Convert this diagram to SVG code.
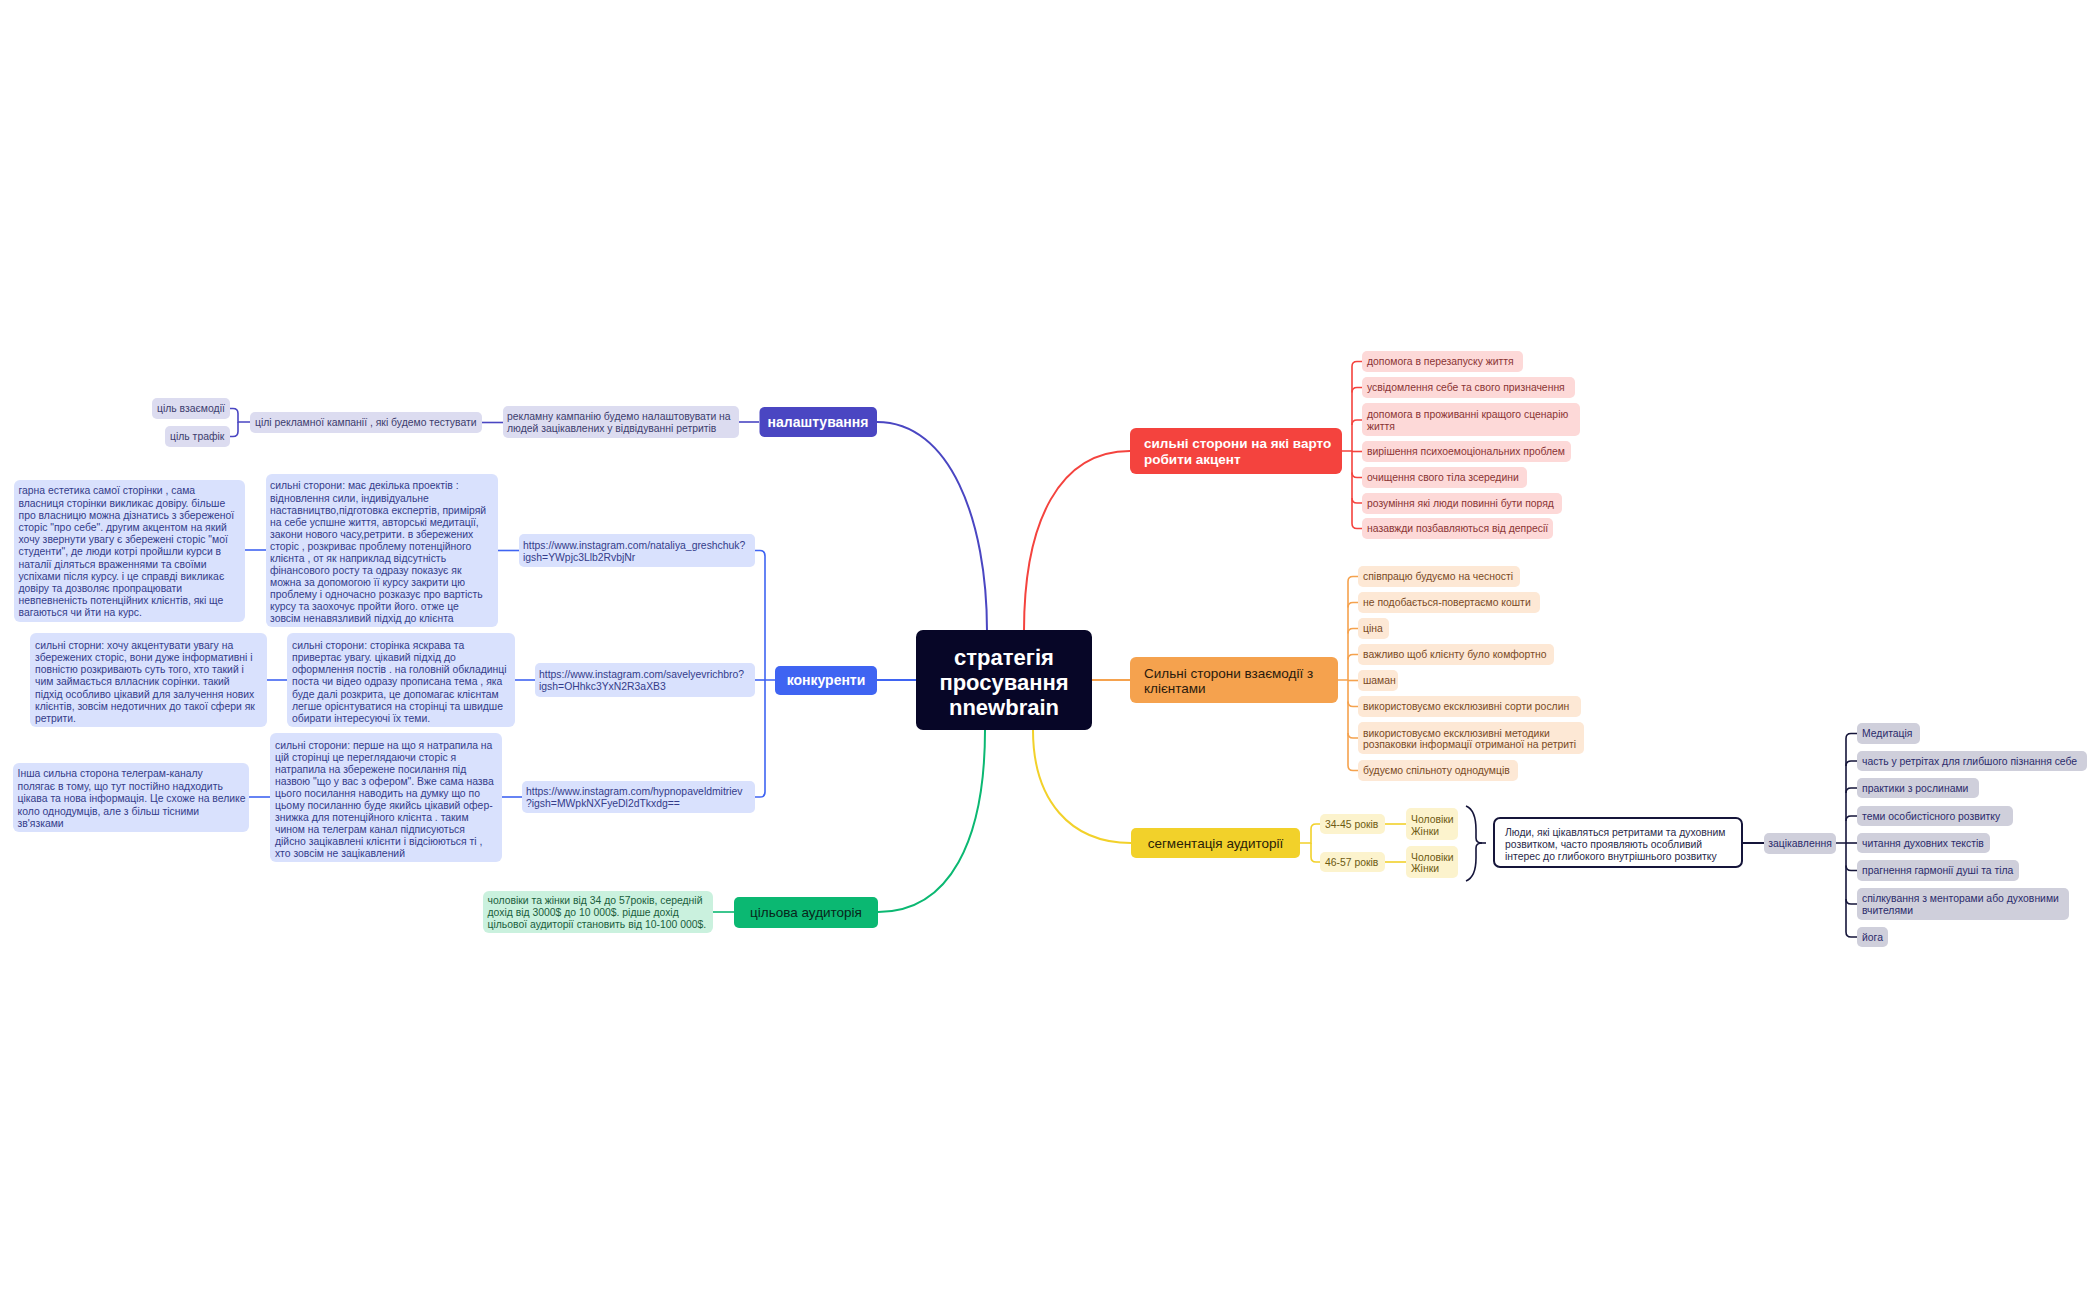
<svg xmlns="http://www.w3.org/2000/svg" width="2100" height="1299" viewBox="0 0 2100 1299">
<style>
text{font-family:"Liberation Sans",Arial,sans-serif;}
.s{font-size:10.4px;}
.m{font-size:13.5px;}
.b{font-size:14px;font-weight:bold;fill:#fff;}
.c{font-size:22px;font-weight:bold;fill:#fff;}
.ln{fill:none;stroke-width:2;}
.lnt{fill:none;stroke-width:1.6;}
.ind{stroke:#4a46c2;}
.blu{stroke:#3f64f2;}
.red{stroke:#f4433e;}
.org{stroke:#f5a24e;}
.yel{stroke:#f2d12a;}
.grn{stroke:#0bb872;}
.nav{stroke:#15153a;}
.lav rect{fill:#dcdcf0;} .lav text{fill:#3c3c6e;}
.lb rect{fill:#d9e1fd;} .lb text{fill:#343c8a;}
.pk rect{fill:#fdd9d8;} .pk text{fill:#8a3434;}
.pc rect{fill:#fde8d5;} .pc text{fill:#7a4a25;}
.ly rect{fill:#fcf3cd;} .ly text{fill:#6e5a12;}
.lg rect{fill:#caf1de;} .lg text{fill:#1b5e3d;}
.gr rect{fill:#cfcfdb;} .gr text{fill:#2b2b6b;}
</style>
<rect width="2100" height="1299" fill="#fff"/>

<g id="connectors">
  <path class="ln ind" d="M877 422 C950 422 987 520 987 631"/>
  <path class="ln red" d="M1024 631 C1024 520 1060 451 1130 451"/>
  <path class="ln org" d="M1092 680 H1130"/>
  <path class="ln yel" d="M1033 730 C1033 800 1070 843 1131 843"/>
  <path class="ln grn" d="M878 912 C950 912 985 840 985 730"/>
  <path class="ln blu" d="M877 680 H916"/>
  <path class="lnt ind" d="M759 422 H739"/>
  <path class="lnt ind" d="M503 422.5 H482"/>
  <path class="lnt ind" d="M250 422 H238 V413.5 Q238 408.5 233 408.5 H230"/>
  <path class="lnt ind" d="M238 422 V431.5 Q238 436.5 233 436.5 H230"/>
  <path class="lnt blu" d="M775 680 H765 V556 Q765 550.5 760 550.5 H755"/>
  <path class="lnt blu" d="M765 680 H755"/>
  <path class="lnt blu" d="M765 680 V792 Q765 797 760 797 H755"/>
  <path class="lnt blu" d="M519 550.5 H498"/>
  <path class="lnt blu" d="M266 550 H245"/>
  <path class="lnt blu" d="M535 680 H515"/>
  <path class="lnt blu" d="M287 680 H267"/>
  <path class="lnt blu" d="M522 797 H502"/>
  <path class="lnt blu" d="M270 797 H249"/>
  <path class="lnt grn" d="M734 912 H713"/>
  <path class="lnt red" d="M1342 451 H1352 V366.5 Q1352 361.5 1357 361.5 H1362"/>
  <path class="lnt red" d="M1352 392.5 Q1352 387.5 1357 387.5 H1362"/>
  <path class="lnt red" d="M1352 425 Q1352 420 1357 420 H1362"/>
  <path class="lnt red" d="M1352 451.5 H1362"/>
  <path class="lnt red" d="M1352 451 V523.5 Q1352 528.5 1357 528.5 H1362"/>
  <path class="lnt red" d="M1352 472.5 Q1352 477.5 1357 477.5 H1362"/>
  <path class="lnt red" d="M1352 498 Q1352 503 1357 503 H1362"/>
  <path class="lnt org" d="M1338 680 H1348 V581.5 Q1348 576.5 1353 576.5 H1358"/>
  <path class="lnt org" d="M1348 607.5 Q1348 602.5 1353 602.5 H1358"/>
  <path class="lnt org" d="M1348 633.5 Q1348 628.5 1353 628.5 H1358"/>
  <path class="lnt org" d="M1348 659.5 Q1348 654.5 1353 654.5 H1358"/>
  <path class="lnt org" d="M1348 680.5 H1358"/>
  <path class="lnt org" d="M1348 680 V765.5 Q1348 770.5 1353 770.5 H1358"/>
  <path class="lnt org" d="M1348 701.5 Q1348 706.5 1353 706.5 H1358"/>
  <path class="lnt org" d="M1348 733 Q1348 738 1353 738 H1358"/>
  <path class="lnt yel" d="M1300 843 H1311 V829 Q1311 824 1316 824 H1320"/>
  <path class="lnt yel" d="M1311 843 V857 Q1311 862 1316 862 H1320"/>
  <path class="lnt yel" d="M1385 824 H1406"/>
  <path class="lnt yel" d="M1385 862 H1406"/>
  <path class="lnt nav" d="M1466 806 Q1476 810 1476 830 V838 Q1476 843 1482 843 Q1476 843 1476 848 V858 Q1476 877 1466 881"/>
  <path class="lnt nav" d="M1479 843 H1486"/>
  <path class="ln nav" d="M1743 843 H1764"/>
  <path class="lnt nav" d="M1836 843 H1846 V738.5 Q1846 733.5 1851 733.5 H1857"/>
  <path class="lnt nav" d="M1846 766 Q1846 761 1851 761 H1857"/>
  <path class="lnt nav" d="M1846 793 Q1846 788 1851 788 H1857"/>
  <path class="lnt nav" d="M1846 821 Q1846 816 1851 816 H1857"/>
  <path class="lnt nav" d="M1846 843 H1857"/>
  <path class="lnt nav" d="M1846 843 V932 Q1846 937 1851 937 H1857"/>
  <path class="lnt nav" d="M1846 865.5 Q1846 870.5 1851 870.5 H1857"/>
  <path class="lnt nav" d="M1846 899 Q1846 904 1851 904 H1857"/>
</g>

<g id="central">
  <rect x="916" y="630" width="176" height="100" rx="7" fill="#070627"/>
  <text class="c" x="1004" y="664.5" text-anchor="middle">стратегія</text>
  <text class="c" x="1004" y="689.5" text-anchor="middle">просування</text>
  <text class="c" x="1004" y="714.5" text-anchor="middle">nnewbrain</text>
</g>

<g id="nalashtuvannia">
  <rect x="759.5" y="407" width="117.5" height="30" rx="5" fill="#4a46c2"/>
  <text class="b" x="818" y="427" text-anchor="middle">налаштування</text>
</g>
<g id="reklamnu" class="lav">
  <rect x="503" y="406" width="236" height="32" rx="5"/>
  <text class="s" x="507" y="420.4">рекламну кампанію будемо налаштовувати на</text>
  <text class="s" x="507" y="431.5">людей зацікавлених у відвідуванні ретритів</text>
</g>
<g id="tsili" class="lav">
  <rect x="250" y="412" width="232" height="21" rx="5"/>
  <text class="s" x="255" y="426">цілі рекламної кампанії , які будемо тестувати</text>
</g>
<g id="vzaiemodii" class="lav">
  <rect x="152" y="398" width="78" height="21" rx="5"/>
  <text class="s" x="157" y="412">ціль взаємодії</text>
</g>
<g id="trafik" class="lav">
  <rect x="165" y="426" width="65" height="21" rx="5"/>
  <text class="s" x="170" y="440">ціль трафік</text>
</g>

<g id="konkurenty">
  <rect x="775" y="666" width="102" height="29" rx="5" fill="#3f64f2"/>
  <text class="b" x="826" y="685" text-anchor="middle">конкуренти</text>
</g>
<g id="link1" class="lb">
  <rect x="519" y="534" width="236" height="33" rx="5"/>
  <text class="s" x="523" y="548.7">https://www.instagram.com/nataliya_greshchuk?</text>
  <text class="s" x="523" y="560.7">igsh=YWpjc3Llb2RvbjNr</text>
</g>
<g id="link2" class="lb">
  <rect x="535" y="663" width="220" height="34" rx="5"/>
  <text class="s" x="539" y="677.7">https://www.instagram.com/savelyevrichbro?</text>
  <text class="s" x="539" y="689.7">igsh=OHhkc3YxN2R3aXB3</text>
</g>
<g id="link3" class="lb">
  <rect x="522" y="781" width="233" height="32" rx="5"/>
  <text class="s" x="526" y="795.4">https://www.instagram.com/hypnopaveldmitriev</text>
  <text class="s" x="526" y="807.2">?igsh=MWpkNXFyeDl2dTkxdg==</text>
</g>
<g id="natalia-strong" class="lb">
  <rect x="266" y="474" width="232" height="153" rx="6"/>
  <text class="s" x="270" y="489.4">сильні сторони: має декілька проектів :</text>
  <text class="s" x="270" y="501.5">відновлення сили, індивідуальне</text>
  <text class="s" x="270" y="513.5">наставництво,підготовка експертів, приміряй</text>
  <text class="s" x="270" y="525.6">на себе успшне життя, авторські медитації,</text>
  <text class="s" x="270" y="537.6">закони нового часу,ретрити. в збережених</text>
  <text class="s" x="270" y="549.7">сторіс , розкриває проблему потенційного</text>
  <text class="s" x="270" y="561.8">клієнта , от як наприклад відсутність</text>
  <text class="s" x="270" y="573.8">фінансового росту та одразу показує як</text>
  <text class="s" x="270" y="585.9">можна за допомогою її курсу закрити цю</text>
  <text class="s" x="270" y="597.9">проблему і одночасно розказує про вартість</text>
  <text class="s" x="270" y="610">курсу та заохочує пройти його. отже це</text>
  <text class="s" x="270" y="622">зовсім ненавязливий підхід до клієнта</text>
</g>
<g id="natalia-aesthetic" class="lb">
  <rect x="14" y="480" width="231" height="142" rx="6"/>
  <text class="s" x="18.5" y="494.4">гарна естетика самої сторінки , сама</text>
  <text class="s" x="18.5" y="506.6">власниця сторінки викликає довіру. більше</text>
  <text class="s" x="18.5" y="518.8">про власницю можна дізнатись з збереженої</text>
  <text class="s" x="18.5" y="531">сторіс "про себе". другим акцентом на який</text>
  <text class="s" x="18.5" y="543.2">хочу звернути увагу є збережені сторіс "мої</text>
  <text class="s" x="18.5" y="555.4">студенти", де люди котрі пройшли курси в</text>
  <text class="s" x="18.5" y="567.6">наталії діляться враженнями та своїми</text>
  <text class="s" x="18.5" y="579.8">успіхами після курсу. і це справді викликає</text>
  <text class="s" x="18.5" y="592">довіру та дозволяє пропрацювати</text>
  <text class="s" x="18.5" y="604.2">невпевненість потенційних клієнтів, які ще</text>
  <text class="s" x="18.5" y="616.4">вагаються чи йти на курс.</text>
</g>
<g id="savely-strong" class="lb">
  <rect x="287" y="633" width="228" height="94" rx="6"/>
  <text class="s" x="292" y="648.7">сильні сторони: сторінка яскрава та</text>
  <text class="s" x="292" y="660.9">привертає увагу. цікавий підхід до</text>
  <text class="s" x="292" y="673.1">оформлення постів . на головній обкладинці</text>
  <text class="s" x="292" y="685.3">поста чи відео  одразу прописана тема , яка</text>
  <text class="s" x="292" y="697.5">буде далі розкрита, це допомагає клієнтам</text>
  <text class="s" x="292" y="709.7">легше орієнтуватися на сторінці та швидше</text>
  <text class="s" x="292" y="721.9">обирати інтересуючі їх теми.</text>
</g>
<g id="savely-stories" class="lb">
  <rect x="30" y="633" width="237" height="94" rx="6"/>
  <text class="s" x="35" y="648.7">сильні сторни: хочу акцентувати увагу на</text>
  <text class="s" x="35" y="660.9">збережених сторіс, вони дуже інформативні і</text>
  <text class="s" x="35" y="673.1">повністю розкривають суть того, хто такий і</text>
  <text class="s" x="35" y="685.3">чим займається влласник сорінки. такий</text>
  <text class="s" x="35" y="697.5">підхід особливо цікавий для залучення нових</text>
  <text class="s" x="35" y="709.7">клієнтів, зовсім недотичних до такої сфери як</text>
  <text class="s" x="35" y="721.9">ретрити.</text>
</g>
<g id="pavel-strong" class="lb">
  <rect x="270" y="733" width="232" height="129" rx="6"/>
  <text class="s" x="275" y="748.7">сильні сторони: перше на що я натрапила на</text>
  <text class="s" x="275" y="760.7">цій сторінці це переглядаючи сторіс я</text>
  <text class="s" x="275" y="772.7">натрапила на збережене посилання під</text>
  <text class="s" x="275" y="784.7">назвою "що у вас з офером". Вже сама назва</text>
  <text class="s" x="275" y="796.7">цього посилання наводить на думку що по</text>
  <text class="s" x="275" y="808.7">цьому посиланню буде якийсь цікавий офер-</text>
  <text class="s" x="275" y="820.7">знижка для потенційного клієнта . таким</text>
  <text class="s" x="275" y="832.7">чином на телеграм канал підписуються</text>
  <text class="s" x="275" y="844.7">дійсно зацікавлені клієнти і відсіюються ті ,</text>
  <text class="s" x="275" y="856.7">хто зовсім не зацікавлений</text>
</g>
<g id="pavel-telegram" class="lb">
  <rect x="13" y="763" width="236" height="69" rx="6"/>
  <text class="s" x="17.5" y="777">Інша сильна сторона телеграм-каналу</text>
  <text class="s" x="17.5" y="789.5">полягає в тому, що тут постійно надходить</text>
  <text class="s" x="17.5" y="802">цікава та нова інформація. Це схоже на велике</text>
  <text class="s" x="17.5" y="814.5">коло однодумців, але з більш тісними</text>
  <text class="s" x="17.5" y="827">зв'язками</text>
</g>

<g id="tsilova">
  <rect x="734" y="897" width="144" height="31" rx="5" fill="#0bb872"/>
  <text class="m" x="806" y="917" text-anchor="middle" fill="#08261a">цільова аудиторія</text>
</g>
<g id="tsilova-text" class="lg">
  <rect x="483" y="891" width="230" height="42" rx="6"/>
  <text class="s" x="487.5" y="904.4">чоловіки та жінки від 34 до 57років, середній</text>
  <text class="s" x="487.5" y="916.4">дохід від 3000$ до 10 000$. рідше дохід</text>
  <text class="s" x="487.5" y="928.2">цільової аудиторії становить від 10-100 000$.</text>
</g>

<g id="strong">
  <rect x="1130" y="428" width="212" height="46" rx="6" fill="#f4433e"/>
  <text class="b" x="1144" y="448" style="font-size:13.5px">сильні сторони на які варто</text>
  <text class="b" x="1144" y="464" style="font-size:13.5px">робити акцент</text>
</g>
<g class="pk">
  <g id="r1"><rect x="1362" y="351" width="161" height="21" rx="5"/><text class="s" x="1367" y="365">допомога в перезапуску життя</text></g>
  <g id="r2"><rect x="1362" y="377" width="213" height="21" rx="5"/><text class="s" x="1367" y="391">усвідомлення себе  та свого призначення</text></g>
  <g id="r3"><rect x="1362" y="403" width="218" height="33" rx="5"/><text class="s" x="1367" y="417.5">допомога в проживанні кращого сценарію</text><text class="s" x="1367" y="429.5">життя</text></g>
  <g id="r4"><rect x="1362" y="441" width="209" height="21" rx="5"/><text class="s" x="1367" y="455">вирішення психоемоціональних проблем</text></g>
  <g id="r5"><rect x="1362" y="467" width="165" height="21" rx="5"/><text class="s" x="1367" y="481">очищення свого тіла зсередини</text></g>
  <g id="r6"><rect x="1362" y="493" width="200" height="21" rx="5"/><text class="s" x="1367" y="507">розуміння які люди повинні бути поряд</text></g>
  <g id="r7"><rect x="1362" y="518" width="191" height="21" rx="5"/><text class="s" x="1367" y="532">назавжди позбавляються від депресії</text></g>
</g>

<g id="interaction">
  <rect x="1130" y="657" width="208" height="46" rx="6" fill="#f5a24e"/>
  <text class="m" x="1144" y="677.5" fill="#2a1a0c">Сильні сторони взаємодії з</text>
  <text class="m" x="1144" y="693" fill="#2a1a0c">клієнтами</text>
</g>
<g class="pc">
  <g id="o1"><rect x="1358" y="566" width="162" height="21" rx="5"/><text class="s" x="1363" y="580">співпрацю будуємо на чесності</text></g>
  <g id="o2"><rect x="1358" y="592" width="182" height="21" rx="5"/><text class="s" x="1363" y="606">не подобається-повертаємо кошти</text></g>
  <g id="o3"><rect x="1358" y="618" width="31" height="21" rx="5"/><text class="s" x="1363" y="632">ціна</text></g>
  <g id="o4"><rect x="1358" y="644" width="196" height="21" rx="5"/><text class="s" x="1363" y="658">важливо щоб клієнту було комфортно</text></g>
  <g id="o5"><rect x="1358" y="670" width="40" height="21" rx="5"/><text class="s" x="1363" y="684">шаман</text></g>
  <g id="o6"><rect x="1358" y="696" width="223" height="21" rx="5"/><text class="s" x="1363" y="710">використовуємо ексклюзивні сорти рослин</text></g>
  <g id="o7"><rect x="1358" y="722" width="226" height="32" rx="5"/><text class="s" x="1363" y="736.5">використовуємо ексклюзивні методики</text><text class="s" x="1363" y="748">розпаковки інформації отриманої на ретриті</text></g>
  <g id="o8"><rect x="1358" y="760" width="160" height="21" rx="5"/><text class="s" x="1363" y="774">будуємо спільноту однодумців</text></g>
</g>

<g id="segmentation">
  <rect x="1131" y="828" width="169" height="30" rx="5" fill="#f2d12a"/>
  <text class="m" x="1215.5" y="848" text-anchor="middle" fill="#2a2208">сегментація аудиторії</text>
</g>
<g class="ly">
  <g id="age1"><rect x="1320" y="814" width="65" height="20" rx="5"/><text class="s" x="1325" y="827.5">34-45 років</text></g>
  <g id="age2"><rect x="1320" y="852" width="65" height="20" rx="5"/><text class="s" x="1325" y="865.5">46-57 років</text></g>
  <g id="g1"><rect x="1406" y="808" width="52" height="32" rx="5"/><text class="s" x="1411" y="822.5">Чоловіки</text><text class="s" x="1411" y="834.5">Жінки</text></g>
  <g id="g2"><rect x="1406" y="846" width="52" height="32" rx="5"/><text class="s" x="1411" y="860.5">Чоловіки</text><text class="s" x="1411" y="872">Жінки</text></g>
</g>
<g id="summary">
  <rect x="1494" y="818" width="248" height="49" rx="6" fill="#fff" stroke="#15153a" stroke-width="2"/>
  <text class="s" x="1505" y="835.5" fill="#2a2a4a">Люди, які цікавляться ретритами та духовним</text>
  <text class="s" x="1505" y="847.8" fill="#2a2a4a">розвитком, часто проявляють особливий</text>
  <text class="s" x="1505" y="860" fill="#2a2a4a">інтерес до глибокого внутрішнього розвитку</text>
</g>
<g id="interest" class="gr">
  <rect x="1764" y="833" width="72" height="21" rx="5"/>
  <text class="s" x="1800" y="847" text-anchor="middle">зацікавлення</text>
</g>
<g class="gr">
  <g id="i1"><rect x="1857" y="723" width="63" height="21" rx="5"/><text class="s" x="1862" y="737">Медитація</text></g>
  <g id="i2"><rect x="1857" y="751" width="230" height="20" rx="5"/><text class="s" x="1862" y="764.5">часть у ретрітах для глибшого пізнання себе</text></g>
  <g id="i3"><rect x="1857" y="778" width="122" height="20" rx="5"/><text class="s" x="1862" y="791.5"> практики з рослинами</text></g>
  <g id="i4"><rect x="1857" y="806" width="156" height="20" rx="5"/><text class="s" x="1862" y="819.5">теми особистісного розвитку</text></g>
  <g id="i5"><rect x="1857" y="833" width="133" height="20" rx="5"/><text class="s" x="1862" y="846.5">читання духовних текстів</text></g>
  <g id="i6"><rect x="1857" y="860" width="162" height="21" rx="5"/><text class="s" x="1862" y="874">прагнення гармонії душі та тіла</text></g>
  <g id="i7"><rect x="1857" y="888" width="212" height="32" rx="5"/><text class="s" x="1862" y="902.4">спілкування з менторами або духовними</text><text class="s" x="1862" y="914">вчителями</text></g>
  <g id="i8"><rect x="1857" y="927" width="31" height="20" rx="5"/><text class="s" x="1862" y="940.5">йога</text></g>
</g>
</svg>
